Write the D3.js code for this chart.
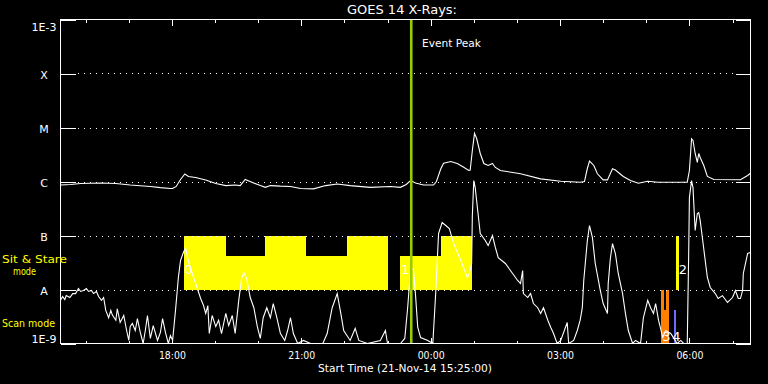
<!DOCTYPE html>
<html>
<head>
<meta charset="utf-8">
<script src="https://cdn.jsdelivr.net/npm/d3@7"></script>
<style>
body { margin: 0; background: #000; }
svg { display: block; background: #000; }
text { font-family: "DejaVu Sans", sans-serif; fill: #fff; }
</style>
</head>
<body>
<svg id="chart" width="768" height="384"></svg>
<script>
// start of plot window, minutes are counted from here
const startTime = Date.UTC(2014, 10, 21, 15, 25),
spanMinutes = 960;

// y levels + their names
const yLevels = [1e-3, 1e-4, 1e-5, 1e-6, 1e-7, 1e-8, 1e-9];
const yLabels = ["1E-3", "X", "M", "C", "B", "A", "1E-9"];

// long channel (1-8 A), [minutes from start, W/m2]
const longChannel = [
  [0,8.6e-7],[14,8.8e-7],[28,9.2e-7],[56,9.4e-7],[77,9.2e-7],[97,8.6e-7],[125,8.1e-7],[139,7.7e-7],
  [153,7.4e-7],[156,7.4e-7],[161,8.1e-7],[167,1.09e-6],[173,1.38e-6],[178,1.24e-6],[188,1.19e-6],
  [202,1.07e-6],[216,9.2e-7],[230,8.4e-7],[243,8.6e-7],[250,8.4e-7],[257,1.09e-6],[267,9.6e-7],
  [278,8.4e-7],[285,7.8e-7],[292,8.4e-7],[306,8.2e-7],[320,8.1e-7],[334,7.4e-7],[352,7.3e-7],
  [369,8.4e-7],[385,9.0e-7],[403,8.4e-7],[431,7.8e-7],[459,8.1e-7],[473,7.8e-7],[481,8.8e-7],
  [487,1.04e-6],[494,9.4e-7],[505,8.6e-7],[519,8.6e-7],[523,1.0e-6],[529,1.7e-6],[533,2.18e-6],
  [543,2.35e-6],[552,2.15e-6],[561,1.84e-6],[568,1.6e-6],[570,1.63e-6],[573,3.75e-6],[576,7.8e-6],
  [579,6.25e-6],[584,3.3e-6],[589,2.15e-6],[595,1.98e-6],[601,2.15e-6],[605,1.82e-6],[612,1.6e-6],
  [640,1.39e-6],[668,1.12e-6],[696,1.01e-6],[723,9.7e-7],[729,1.0e-6],[733,1.74e-6],[736,2.38e-6],
  [742,1.98e-6],[747,1.39e-6],[755,1.07e-6],[761,1.07e-6],[768,1.72e-6],[772,1.63e-6],[783,1.24e-6],
  [793,1.04e-6],[804,9.3e-7],[817,1.01e-6],[831,9.7e-7],[872,9.7e-7],[875,1.6e-6],[878,6.17e-6],
  [880,5.75e-6],[883,3.3e-6],[886,2.25e-6],[888,3.3e-6],[890,2.78e-6],[895,1.98e-6],[900,1.24e-6],
  [909,1.09e-6],[946,1.08e-6],[956,1.29e-6],[960,1.42e-6]
];

// short channel (0.5-4 A)
const shortChannel = [
  [0,6.3e-9],[3,7.4e-9],[6,6.5e-9],[8,7.7e-9],[13,7.1e-9],[17,8.4e-9],[21,8.4e-9],[25,1.04e-8],
  [28,9.2e-9],[32,9.6e-9],[36,1.04e-8],[39,9.2e-9],[43,9.6e-9],[46,8.4e-9],[50,9.2e-9],[53,7.4e-9],
  [57,6.3e-9],[60,7.1e-9],[63,4.1e-9],[67,3.0e-9],[70,4.1e-9],[72,3.4e-9],[77,2.7e-9],[79,4.4e-9],
  [83,2.45e-9],[88,3.3e-9],[92,1.74e-9],[95,1.14e-9],[97,2.06e-9],[100,2.35e-9],[104,1.74e-9],
  [107,2.9e-9],[111,1.6e-9],[115,1e-9],[118,1.74e-9],[121,3.3e-9],[125,1.24e-9],[129,2.15e-9],
  [135,1.14e-9],[139,1.6e-9],[142,2.9e-9],[146,1.6e-9],[150,1e-9],[153,1.4e-9],[156,1.14e-9],
  [160,4.1e-9],[164,1.67e-8],[167,3.45e-8],[171,4.85e-8],[174,6.0e-8],[177,3.75e-8],[181,2.45e-8],
  [188,1.29e-8],[195,6.8e-9],[199,5.05e-9],[202,3.6e-9],[205,5.05e-9],[207,1.53e-9],[211,3.3e-9],
  [216,2.06e-9],[220,2.7e-9],[224,1.53e-9],[230,3.6e-9],[234,2.15e-9],[239,3.3e-9],[243,1.53e-9],
  [248,6.3e-9],[252,1.6e-8],[255,2.06e-8],[259,1.6e-8],[264,7.1e-9],[269,4.6e-9],[274,2.0e-9],
  [278,1.24e-9],[282,3.0e-9],[287,4.6e-9],[292,3.0e-9],[296,5.5e-9],[301,3.0e-9],[306,1.53e-9],
  [312,1.14e-9],[316,1.74e-9],[320,3.0e-9],[324,1.53e-9],[330,1e-9],[338,1.14e-9],[348,1e-9],
  [358,1e-9],[365,1e-9],[371,1.53e-9],[378,4.6e-9],[385,8.4e-9],[390,3.6e-9],[394,1.74e-9],
  [403,1.14e-9],[410,1.9e-9],[415,1.14e-9],[427,1e-9],[445,1.14e-9],[452,1.74e-9],[455,1e-9],
  [473,1e-9],[479,1.24e-9],[483,4.6e-9],[487,2.25e-8],[491,2.45e-8],[494,7.7e-9],[497,2.0e-9],
  [501,1.29e-9],[511,1.14e-9],[518,1e-9],[522,8.4e-9],[526,1.09e-7],[531,1.74e-7],[536,1.53e-7],
  [541,1.35e-7],[547,7.1e-8],[557,3.45e-8],[566,1.67e-8],[569,1.98e-8],[572,3.03e-8],[573,2.35e-7],
  [575,1.04e-6],[577,7.7e-7],[580,3.3e-7],[584,1.09e-7],[591,8.1e-8],[595,6.5e-8],[601,1.0e-7],
  [605,6.0e-8],[609,3.9e-8],[619,3.03e-8],[629,1.98e-8],[636,1.47e-8],[640,1.29e-8],[643,2.25e-8],
  [644,8.4e-9],[650,7.1e-9],[654,8.4e-9],[658,5.5e-9],[664,4.6e-9],[668,3.6e-9],[672,4.6e-9],
  [678,2.7e-9],[682,2.0e-9],[686,1.53e-9],[691,1e-9],[696,1.14e-9],[705,2.45e-9],[707,1e-9],
  [714,1.14e-9],[719,1.74e-9],[723,2.7e-9],[726,4.6e-9],[728,1.47e-8],[733,8.1e-8],[736,1.53e-7],
  [740,9.2e-8],[744,3.03e-8],[751,9.6e-9],[755,5.5e-9],[761,3.6e-9],[762,1.28e-8],[765,3.75e-8],
  [768,7.1e-8],[772,4.64e-8],[776,1.98e-8],[782,8.4e-9],[786,3.6e-9],[790,1.74e-9],[796,1e-9],
  [800,1.14e-9],[807,1e-9],[811,3.0e-9],[817,6.3e-9],[821,4.6e-9],[825,3.6e-9],[828,5.5e-9],
  [832,2.7e-9],[838,1.29e-9],[842,1.74e-9],[849,1.53e-9],[858,1e-9],[863,1.14e-9],[867,1e-9],
  [872,1e-9],[874,4.64e-8],[875,5.05e-7],[878,1.04e-6],[880,7.7e-7],[883,1.24e-7],[886,2.55e-7],
  [888,2.65e-7],[890,1.9e-7],[893,9.2e-8],[897,3.45e-8],[900,1.67e-8],[904,1.09e-8],[911,8.4e-9],
  [915,6.8e-9],[921,7.7e-9],[928,5.75e-9],[935,7.1e-9],[939,9.6e-9],[943,6.8e-9],[946,6.8e-9],
  [949,9.6e-9],[950,1.98e-8],[956,4.64e-8],[960,4.85e-8]
];

// sit & stare pointings (yellow)
const sitStart = [172, 230, 285, 342, 399, 473, 530, 856];
const sitEnd   = [230, 285, 342, 399, 456, 530, 572, 860];
const sitTop   = [1e-7, 4.1e-8, 1e-7, 4.1e-8, 1e-7, 4.1e-8, 1e-7, 1e-7];

// scan mode pieces
const scanStart = [836, 840, 843, 853];
const scanEnd   = [840, 843, 847, 857];
const scanTop   = [1e-8, 4.1e-9, 1e-8, 4.1e-9];
const scanColor = ["#ff8000", "#ff8000", "#ff8000", "#6b6bff"];

// pointing numbers
const markMin  = [178, 480, 866, 843, 857];
const markFlux = [1.9e-8, 1.9e-8, 1.9e-8, 1.1e-9, 1.1e-9];
const markText = ["0", "1", "2", "3", "4"];

const eventPeak = 488;

function toDate(m){ return new Date(startTime + m * 60000) }

let svg = d3.select("#chart")

let x = d3.scaleUtc()
  .domain([toDate(0), toDate(spanMinutes)])
  .range([60.5, 750.5])

let y = d3.scaleLog()
  .domain([1e-9, 1e-3])
  .range([343.5, 19.5])
  .clamp(true)

svg.append("defs").append("clipPath").attr("id", "plotClip")
  .append("rect").attr("x", 60).attr("y", 19).attr("width", 691).attr("height", 325)

let plot = svg.append("g").attr("clip-path", "url(#plotClip)")

// yellow sit & stare blocks
plot.selectAll(".sit")
  .data(sitStart)
  .join("rect")
  .attr("class", "sit")
  .attr("x", (d, i) => x(toDate(sitStart[i])))
  .attr("width", (d, i) => x(toDate(sitEnd[i])) - x(toDate(sitStart[i])))
  .attr("y", (d, i) => y(sitTop[i]))
  .attr("height", (d, i) => y(1e-8) - y(sitTop[i]))
  .attr("fill", "#ffff00")
  .attr("shape-rendering", "crispEdges")

// scan mode bars
plot.selectAll(".scan")
  .data(scanStart)
  .join("rect")
  .attr("class", "scan")
  .attr("x", (d, i) => x(toDate(scanStart[i])))
  .attr("width", (d, i) => x(toDate(scanEnd[i])) - x(toDate(scanStart[i])))
  .attr("y", (d, i) => y(scanTop[i]))
  .attr("height", (d, i) => y(1e-9) - y(scanTop[i]))
  .attr("fill", (d, i) => scanColor[i])
  .attr("shape-rendering", "crispEdges")

// dotted grid at the class levels
svg.selectAll(".grid")
  .data(yLevels.slice(1, -1))
  .join("line")
  .attr("class", "grid")
  .attr("x1", 78).attr("x2", 735)
  .attr("y1", d => Math.round(y(d)) + 0.5)
  .attr("y2", d => Math.round(y(d)) + 0.5)
  .attr("stroke", "#fff")
  .attr("stroke-dasharray", "1,5")

let line = d3.line()
  .x(d => x(toDate(d[0])))
  .y(d => y(d[1]))

plot.append("path")
  .datum(longChannel)
  .attr("d", line)
  .attr("fill", "none")
  .attr("stroke", "#fff")
  .attr("stroke-width", 1.1)

plot.append("path")
  .datum(shortChannel)
  .attr("d", line)
  .attr("fill", "none")
  .attr("stroke", "#fff")
  .attr("stroke-width", 1.1)

plot.selectAll(".mark")
  .data(markText)
  .join("text")
  .attr("class", "mark")
  .attr("x", (d, i) => x(toDate(markMin[i])))
  .attr("y", (d, i) => y(markFlux[i]))
  .attr("text-anchor", "middle")
  .style("font-size", "13px")
  .text(d => d)

// event peak
svg.append("line")
  .attr("x1", x(toDate(eventPeak))).attr("x2", x(toDate(eventPeak)))
  .attr("y1", 19.5).attr("y2", 343.5)
  .attr("stroke", "#99cc00")
  .attr("stroke-width", 2.6)

svg.append("text")
  .attr("x", 422).attr("y", 47)
  .attr("textLength", 59).attr("lengthAdjust", "spacingAndGlyphs")
  .style("font-size", "11px")
  .text("Event Peak")

// axes
function styleAxis(g){
  g.select(".domain").remove()
  g.selectAll("line").attr("stroke", "#fff").attr("shape-rendering", "crispEdges")
  g.selectAll("text").attr("fill", "#fff").style("font-family", "DejaVu Sans").style("font-size", "11px")
}

svg.append("g")
  .attr("transform", "translate(0,343.5)")
  .call(d3.axisBottom(x).ticks(d3.utcHour.every(1)).tickSize(-3).tickFormat(""))
  .call(styleAxis)

svg.append("g")
  .attr("transform", "translate(0,343.5)")
  .call(d3.axisBottom(x).ticks(d3.utcHour.every(3)).tickSize(-6).tickPadding(8).tickFormat(d3.utcFormat("%H:%M")))
  .call(styleAxis)
  .selectAll("text").attr("textLength", 27).attr("lengthAdjust", "spacingAndGlyphs")

svg.append("g")
  .attr("transform", "translate(0,19.5)")
  .call(d3.axisTop(x).ticks(d3.utcHour.every(1)).tickSize(-3).tickFormat(""))
  .call(styleAxis)

svg.append("g")
  .attr("transform", "translate(0,19.5)")
  .call(d3.axisTop(x).ticks(d3.utcHour.every(3)).tickSize(-6).tickFormat(""))
  .call(styleAxis)

let yAxis = svg.append("g")
  .attr("transform", "translate(60.5,0)")
  .call(d3.axisLeft(y).tickValues(yLevels).tickSize(-15).tickFormat((d, i) => yLabels[i]))
  .call(styleAxis)

yAxis.selectAll("text")
  .attr("x", -16.5)
  .attr("text-anchor", "middle")
  .attr("dy", (d, i) => i == 0 ? "1.0em" : (i == yLevels.length - 1 ? "-0.05em" : "0.45em"))

svg.append("g")
  .attr("transform", "translate(750.5,0)")
  .call(d3.axisRight(y).tickValues(yLevels).tickSize(-15).tickFormat(""))
  .call(styleAxis)

// frame
svg.append("rect")
  .attr("x", 60.5).attr("y", 19.5)
  .attr("width", 690).attr("height", 324)
  .attr("fill", "none").attr("stroke", "#fff")
  .attr("shape-rendering", "crispEdges")

// title + labels
svg.append("text")
  .attr("x", 347).attr("y", 14)
  .attr("textLength", 110).attr("lengthAdjust", "spacingAndGlyphs")
  .style("font-size", "12px")
  .text("GOES 14 X-Rays:")

svg.append("text")
  .attr("x", 318).attr("y", 372)
  .attr("textLength", 174).attr("lengthAdjust", "spacingAndGlyphs")
  .style("font-size", "11px")
  .text("Start Time (21-Nov-14 15:25:00)")

let modeLabels = svg.append("g").style("font-size", "11px")

modeLabels.append("text").attr("x", 2).attr("y", 263)
  .attr("textLength", 65).attr("lengthAdjust", "spacingAndGlyphs")
  .style("fill", "#ffff00").text("Sit & Stare")
modeLabels.append("text").attr("x", 13).attr("y", 275)
  .attr("textLength", 23).attr("lengthAdjust", "spacingAndGlyphs")
  .style("fill", "#ffff00").text("mode")
modeLabels.append("text").attr("x", 2).attr("y", 327)
  .attr("textLength", 53).attr("lengthAdjust", "spacingAndGlyphs")
  .style("fill", "#ffff00").text("Scan mode")
</script>
</body>
</html>
